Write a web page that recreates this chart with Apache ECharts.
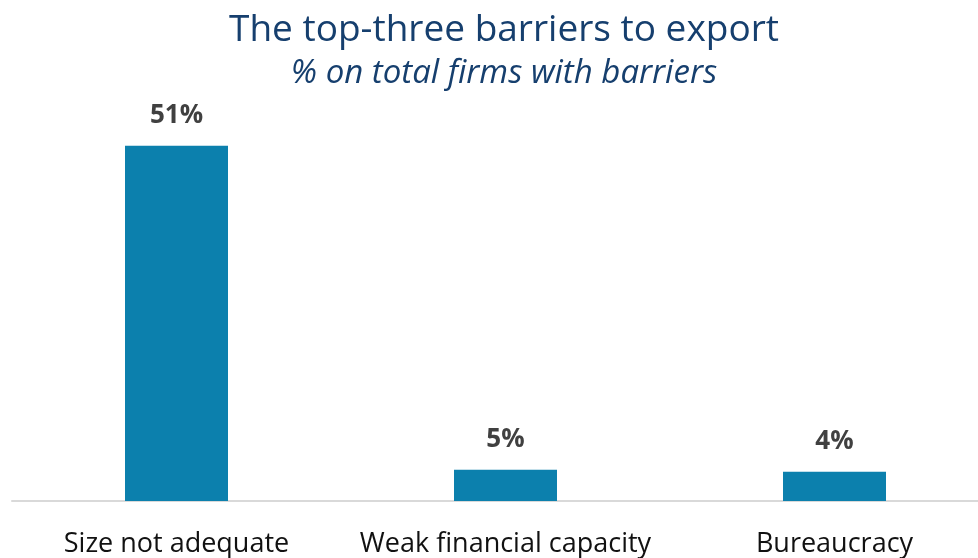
<!DOCTYPE html>
<html>
<head>
<meta charset="utf-8">
<script src="https://cdn.jsdelivr.net/npm/echarts@6/dist/echarts.min.js"></script>
<style>
html,body{margin:0;padding:0;background:#fff;}
#chart{width:978px;height:558px;}
</style>
</head>
<body>
<div id="chart"></div>
<script>
const titleText = 'The top-three barriers to export';
const subtitleText = '% on total firms with barriers';
const categories = ['Size not adequate', 'Weak financial capacity', 'Bureaucracy'];
const values = [51, 4.5, 4.2];

const chart = echarts.init(document.getElementById('chart'));
chart.setOption({
  animation: false,
  backgroundColor: '#ffffff',
  title: {
    text: titleText,
    subtext: subtitleText,
    left: 499,
    top: 7,
    textAlign: 'center',
    itemGap: 8,
    textStyle: { fontFamily: 'Open Sans', fontSize: 37, fontWeight: 'normal', color: '#163f6e' },
    subtextStyle: { fontFamily: 'Open Sans', fontSize: 33, fontStyle: 'italic', color: '#163f6e' }
  },
  grid: { left: 12, top: 83, right: -21, bottom: 57, containLabel: false, outerBoundsMode: 'none' },
  xAxis: {
    type: 'category',
    data: categories,
    axisLine: { show: true, lineStyle: { color: '#d9d9d9', width: 2 } },
    axisTick: { show: false },
    axisLabel: { margin: 30, fontFamily: 'Open Sans', fontSize: 27, color: '#111111', interval: 0 }
  },
  yAxis: {
    type: 'value',
    min: 0,
    max: 60,
    show: false,
    splitLine: { show: false }
  },
  series: [{
    type: 'bar',
    data: values,
    barWidth: 103,
    itemStyle: { color: '#0c80ad' },
    label: {
      show: true,
      position: 'top',
      distance: 17,
      formatter: p => Math.round(p.value) + '%',
      fontFamily: 'Open Sans',
      fontSize: 26,
      fontWeight: 'bold',
      color: '#404040'
    }
  }]
});
</script>
</body>
</html>
